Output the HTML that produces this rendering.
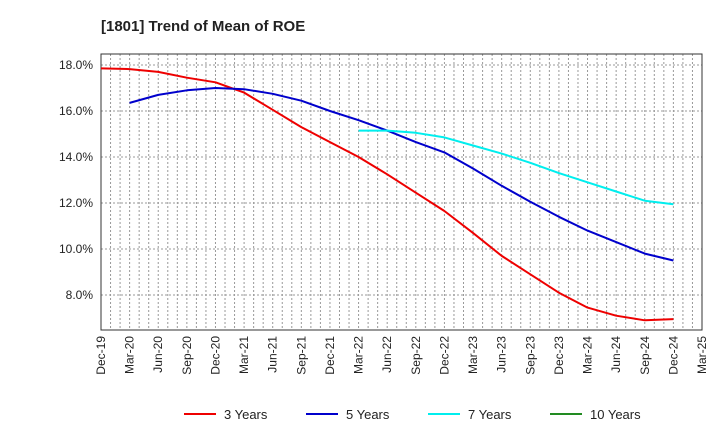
<!DOCTYPE html>
<html><head><meta charset="utf-8"><style>
body{margin:0;background:#fff;font-family:"Liberation Sans",sans-serif}
</style></head><body>
<svg id="chart" width="720" height="440" xmlns="http://www.w3.org/2000/svg" font-family="Liberation Sans, sans-serif">
<text x="101" y="31" font-size="15" font-weight="bold" fill="#222">[1801]  Trend of Mean of ROE</text>
<g id="grid"></g><g id="axes"></g><g id="series"></g><g id="legend"></g>
</svg>
<script>
const xLabels=["Dec-19","Mar-20","Jun-20","Sep-20","Dec-20","Mar-21","Jun-21","Sep-21","Dec-21","Mar-22","Jun-22","Sep-22","Dec-22","Mar-23","Jun-23","Sep-23","Dec-23","Mar-24","Jun-24","Sep-24","Dec-24","Mar-25"];
const yTicks=[8,10,12,14,16,18];
const roe3=[17.85,17.82,17.7,17.45,17.25,16.8,16.05,15.3,14.65,14.0,13.25,12.45,11.65,10.7,9.7,8.9,8.1,7.45,7.1,6.9,6.95];
const roe5=[null,16.35,16.7,16.9,17.0,16.95,16.75,16.45,16.0,15.6,15.15,14.65,14.2,13.5,12.75,12.05,11.4,10.8,10.3,9.8,9.5];
const roe7=[null,null,null,null,null,null,null,null,null,15.15,15.15,15.05,14.85,14.5,14.15,13.75,13.3,12.9,12.5,12.1,11.95];
const roe10=[];
const L=101,R=702,T=54,B=330;
const NS="http://www.w3.org/2000/svg";
const xq=i=>L+(R-L)*i/(xLabels.length-1);
const y=v=>65+(18-v)*23;
function mk(tag,attrs,parent){const e=document.createElementNS(NS,tag);for(const k in attrs)e.setAttribute(k,attrs[k]);parent.appendChild(e);return e;}
const grid=document.getElementById('grid'),axes=document.getElementById('axes'),ser=document.getElementById('series'),leg=document.getElementById('legend');
for(let m=1;m<(xLabels.length-1)*3;m++){const xx=L+(R-L)*m/((xLabels.length-1)*3);
const g=mk('line',{x1:xx,x2:xx,y1:T,y2:B,stroke:'#999','stroke-dasharray':'2,2','stroke-width':1},grid);

}
yTicks.forEach(v=>{const g=mk('line',{x1:L,x2:R,y1:y(v),y2:y(v),stroke:'#999','stroke-dasharray':'2,2'},grid);


const t=mk('text',{x:L-8,y:y(v)+4,'text-anchor':'end','font-size':12,fill:'#222'},axes);t.textContent=v.toFixed(1)+'%';

});
const box=mk('rect',{x:L,y:T,width:R-L,height:B-T,fill:'none',stroke:'#333'},axes);


xLabels.forEach((s,i)=>{const xx=xq(i);const t=mk('text',{x:xx+4,y:B+6,'text-anchor':'end','font-size':12,fill:'#222',transform:`rotate(-90 ${xx+4} ${B+6})`},axes);t.textContent=s;

});
function line(data,color,name){let d='';let started=false;data.forEach((v,i)=>{if(v==null)return;d+=(started?'L':'M')+xq(i).toFixed(1)+','+y(v).toFixed(1);started=true;});
if(!d)return;const p=mk('path',{d:d,fill:'none',stroke:color,'stroke-width':2,'stroke-linejoin':'round'},ser);

}
line(roe3,'#ee0000','line-3-years');line(roe5,'#0000cc','line-5-years');line(roe7,'#00eeee','line-7-years');line(roe10,'#228b22','line-10-years');
const items=[['3 Years','#ee0000',184],['5 Years','#0000cc',306],['7 Years','#00eeee',428],['10 Years','#228b22',550]];
items.forEach(([lab,c,x0])=>{const g=mk('g',{},leg);


mk('line',{x1:x0,x2:x0+32,y1:414,y2:414,stroke:c,'stroke-width':2},g);
const t=mk('text',{x:x0+40,y:419,'font-size':13,fill:'#222'},g);t.textContent=lab;});
</script>
</body></html>
